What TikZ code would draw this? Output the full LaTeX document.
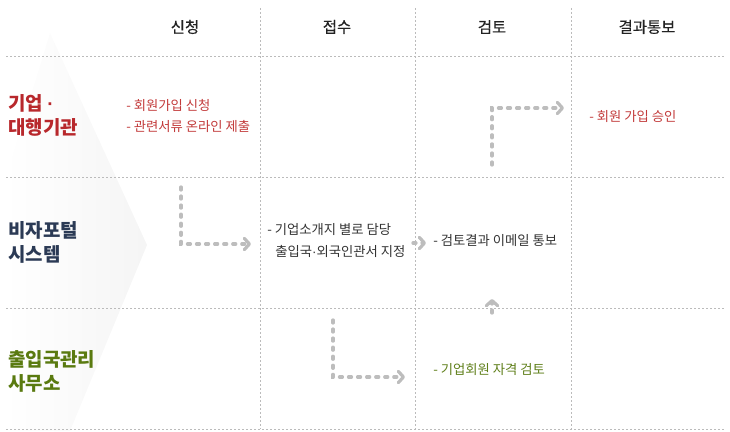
\documentclass[tikz,border=0pt]{standalone}
\usepackage{fontspec}
\setmainfont{Noto Sans CJK KR}
\newfontfamily\latinf{Liberation Sans}
\newfontfamily\hdrfont[FakeBold=0.35]{Noto Sans CJK KR}
\usetikzlibrary{arrows.meta}
\definecolor{hdr}{HTML}{222222}
\definecolor{redt}{HTML}{B8282C}
\definecolor{redb}{HTML}{C23A3A}
\definecolor{navy}{HTML}{2B3A55}
\definecolor{greent}{HTML}{5A7A10}
\definecolor{greenb}{HTML}{5F7F1A}
\definecolor{bodyg}{HTML}{333333}
\definecolor{gridc}{HTML}{BBBBBB}
\definecolor{arrc}{HTML}{BDBDBD}
\newcommand{\mdot}{{\latinf ·}}
\tikzset{
  gridline/.style={draw=gridc, line width=0.7pt, dash pattern=on 1.5pt off 1.5pt},
  header/.style={inner sep=0pt, text=hdr, font=\hdrfont\fontsize{11.6pt}{13pt}\selectfont},
  rowlabel/.style={inner sep=0pt, anchor=west, align=left, font=\fontsize{14.2pt}{18pt}\selectfont\bfseries},
  bodytext/.style={inner sep=0pt, anchor=west, font=\fontsize{10pt}{12pt}\selectfont},
  flow/.style={draw=arrc, line width=2.5pt, line cap=round, dash pattern=on 2.2pt off 4.6pt,
    -{Straight Barb[length=3.8pt, width=8.5pt, line width=2.4pt, round]}}
}
\begin{document}
\begin{tikzpicture}[x=0.75pt, y=-0.75pt]
\useasboundingbox (0,0) rectangle (730,431);
% background chevron
\shade[left color=white, right color=black!4] (50,33) -- (147,245) -- (70,431) -- (5,431) -- (5,180) -- cycle;
% grid
\foreach \yy in {56,177,308,429} \draw[gridline] (6,\yy) -- (725,\yy);
\foreach \xx in {260,415,571} \draw[gridline] (\xx,8) -- (\xx,429);
% headers
\node[header] (h1) at (185,27) {신청};
\node[header] (h2) at (337,27) {접수};
\node[header] (h3) at (492,27) {검토};
\node[header] (h4) at (647,27) {결과통보};
% row labels
\node[rowlabel, text=redt] (r1) at (8,115) {기업 \mdot\\대행기관};
\node[rowlabel, text=navy] (r2) at (8,242) {비자포털\\시스템};
\node[rowlabel, text=greent] (r3) at (8,371) {출입국관리\\사무소};
% body texts
\node[bodytext, text=redb] (t1) at (126,105) {- 회원가입 신청};
\node[bodytext, text=redb] (t2) at (126,126) {- 관련서류 온라인 제출};
\node[bodytext, text=redb] (t3) at (589,117) {- 회원 가입 승인};
\node[bodytext, text=bodyg] (t4) at (267,230) {- 기업소개지 별로 담당};
\node[bodytext, text=bodyg] (t5) at (275,251) {출입국\mdot 외국인관서 지정};
\node[bodytext, text=bodyg] (t6) at (433,241) {- 검토결과 이메일 통보};
\node[bodytext, text=greenb] (t7) at (433,370) {- 기업회원 자격 검토};
% connector ends
\coordinate (a1s) at (181,187); \coordinate (a1e) at (251,244);
\coordinate (a2s) at (333,320); \coordinate (a2e) at (405,377);
\coordinate (a3s) at (413,243); \coordinate (a3e) at (426,243);
\coordinate (a4s) at (492,313); \coordinate (a4e) at (492,299);
\coordinate (a5s) at (492,165); \coordinate (a5e) at (564,108);
\draw[flow] (a1s) |- (a1e);
\draw[flow] (a2s) |- (a2e);
\draw[flow] (a3s) -- (a3e);
\draw[flow] (a4s) -- (a4e);
\draw[flow] (a5s) |- (a5e);
\end{tikzpicture}
\end{document}
